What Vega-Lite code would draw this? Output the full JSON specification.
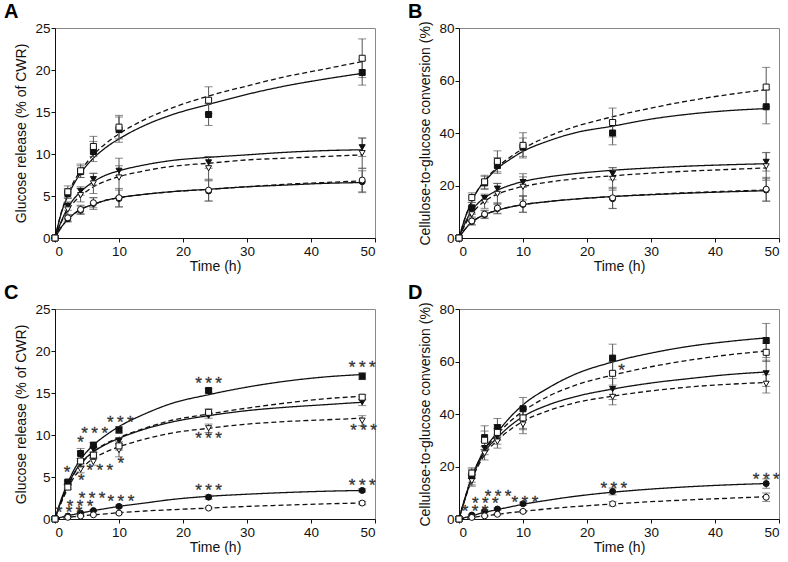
{
"$schema":"https://vega.github.io/schema/vega-lite/v6.json",
"padding":{"left":3,"top":1,"right":0,"bottom":0},
"background":"white",
"columns":2,
"spacing":{"row":71,"column":84},
"bounds":"flush",
"config":{
 "font":"Liberation Sans",
 "view":{"stroke":"#888","strokeWidth":1},
 "axis":{"grid":false,"labelFont":"Liberation Sans","labelFontSize":13.5,"labelColor":"#111","titleFont":"Liberation Sans","titleFontSize":14,"titleFontWeight":"normal","titleColor":"#111","domainColor":"#111","tickColor":"#111","tickSize":4,"labelPadding":2},
 "axisY":{"titlePadding":6,"labelPadding":1},
 "axisX":{"titlePadding":2},
 "title":{"fontSize":20,"fontWeight":"bold","anchor":"start","frame":"group","dx":-51,"offset":-1,"color":"#000","font":"Liberation Sans"}
},
"datasets":{
"pts":[
{"p":"A","s":"ciF","t":0,"v":0,"e":0},{"p":"A","s":"ciF","t":2,"v":2.3,"e":0.4},{"p":"A","s":"ciF","t":4,"v":3.3,"e":0.5},{"p":"A","s":"ciF","t":6,"v":4.1,"e":0.7},{"p":"A","s":"ciF","t":10,"v":4.7,"e":1.0},{"p":"A","s":"ciF","t":24,"v":5.6,"e":1.2},{"p":"A","s":"ciF","t":48,"v":6.7,"e":1.3},
{"p":"A","s":"ciO","t":0,"v":0,"e":0},{"p":"A","s":"ciO","t":2,"v":2.4,"e":0.4},{"p":"A","s":"ciO","t":4,"v":3.4,"e":0.5},{"p":"A","s":"ciO","t":6,"v":4.2,"e":0.6},{"p":"A","s":"ciO","t":10,"v":4.8,"e":1.1},{"p":"A","s":"ciO","t":24,"v":5.7,"e":1.3},{"p":"A","s":"ciO","t":48,"v":6.9,"e":1.4},
{"p":"A","s":"trF","t":0,"v":0,"e":0},{"p":"A","s":"trF","t":2,"v":3.8,"e":0.5},{"p":"A","s":"trF","t":4,"v":5.6,"e":0.5},{"p":"A","s":"trF","t":6,"v":7.0,"e":0.7},{"p":"A","s":"trF","t":10,"v":8.0,"e":0.6},{"p":"A","s":"trF","t":24,"v":9.0,"e":0.7},{"p":"A","s":"trF","t":48,"v":10.8,"e":1.1},
{"p":"A","s":"trO","t":0,"v":0,"e":0},{"p":"A","s":"trO","t":2,"v":3.4,"e":0.8},{"p":"A","s":"trO","t":4,"v":5.1,"e":0.8},{"p":"A","s":"trO","t":6,"v":6.5,"e":1.2},{"p":"A","s":"trO","t":10,"v":7.2,"e":2.3},{"p":"A","s":"trO","t":24,"v":8.3,"e":1.4},{"p":"A","s":"trO","t":48,"v":10.1,"e":1.8},
{"p":"A","s":"sqF","t":0,"v":0,"e":0},{"p":"A","s":"sqF","t":2,"v":5.3,"e":0.6},{"p":"A","s":"sqF","t":4,"v":7.9,"e":0.7},{"p":"A","s":"sqF","t":6,"v":10.3,"e":1.2},{"p":"A","s":"sqF","t":10,"v":12.9,"e":1.5},{"p":"A","s":"sqF","t":24,"v":14.7,"e":1.3},{"p":"A","s":"sqF","t":48,"v":19.7,"e":1.5},
{"p":"A","s":"sqO","t":0,"v":0,"e":0},{"p":"A","s":"sqO","t":2,"v":5.5,"e":0.7},{"p":"A","s":"sqO","t":4,"v":8.0,"e":0.8},{"p":"A","s":"sqO","t":6,"v":10.9,"e":1.2},{"p":"A","s":"sqO","t":10,"v":13.2,"e":1.4},{"p":"A","s":"sqO","t":24,"v":16.4,"e":1.6},{"p":"A","s":"sqO","t":48,"v":21.4,"e":2.3},
{"p":"B","s":"ciF","t":0,"v":0,"e":0},{"p":"B","s":"ciF","t":2,"v":6.3,"e":1.3},{"p":"B","s":"ciF","t":4,"v":8.9,"e":1.5},{"p":"B","s":"ciF","t":6,"v":11.2,"e":2},{"p":"B","s":"ciF","t":10,"v":12.8,"e":3},{"p":"B","s":"ciF","t":24,"v":15,"e":3.8},{"p":"B","s":"ciF","t":48,"v":18.3,"e":4.3},
{"p":"B","s":"ciO","t":0,"v":0,"e":0},{"p":"B","s":"ciO","t":2,"v":6.5,"e":1.5},{"p":"B","s":"ciO","t":4,"v":9.1,"e":1.5},{"p":"B","s":"ciO","t":6,"v":11.4,"e":2},{"p":"B","s":"ciO","t":10,"v":13,"e":3.2},{"p":"B","s":"ciO","t":24,"v":15.3,"e":4},{"p":"B","s":"ciO","t":48,"v":18.6,"e":4.5},
{"p":"B","s":"trF","t":0,"v":0,"e":0},{"p":"B","s":"trF","t":2,"v":10.5,"e":1.5},{"p":"B","s":"trF","t":4,"v":15.2,"e":1.5},{"p":"B","s":"trF","t":6,"v":18.8,"e":2},{"p":"B","s":"trF","t":10,"v":21.3,"e":2},{"p":"B","s":"trF","t":24,"v":24.5,"e":2.3},{"p":"B","s":"trF","t":48,"v":29,"e":3.5},
{"p":"B","s":"trO","t":0,"v":0,"e":0},{"p":"B","s":"trO","t":2,"v":9,"e":2.5},{"p":"B","s":"trO","t":4,"v":13.8,"e":2.5},{"p":"B","s":"trO","t":6,"v":16.8,"e":4},{"p":"B","s":"trO","t":10,"v":19.5,"e":5},{"p":"B","s":"trO","t":24,"v":22.5,"e":4.3},{"p":"B","s":"trO","t":48,"v":27.3,"e":5.3},
{"p":"B","s":"sqF","t":0,"v":0,"e":0},{"p":"B","s":"sqF","t":2,"v":11.5,"e":2},{"p":"B","s":"sqF","t":4,"v":21,"e":2.5},{"p":"B","s":"sqF","t":6,"v":27.6,"e":3},{"p":"B","s":"sqF","t":10,"v":34.6,"e":3.5},{"p":"B","s":"sqF","t":24,"v":40,"e":4.5},{"p":"B","s":"sqF","t":48,"v":50,"e":6.5},
{"p":"B","s":"sqO","t":0,"v":0,"e":0},{"p":"B","s":"sqO","t":2,"v":15.4,"e":1.8},{"p":"B","s":"sqO","t":4,"v":21.4,"e":2.5},{"p":"B","s":"sqO","t":6,"v":29.2,"e":4},{"p":"B","s":"sqO","t":10,"v":35.3,"e":4.8},{"p":"B","s":"sqO","t":24,"v":44,"e":5.5},{"p":"B","s":"sqO","t":48,"v":57.5,"e":7.5},
{"p":"C","s":"ciF","t":0,"v":0,"e":0},{"p":"C","s":"ciF","t":2,"v":0.35,"e":0.05},{"p":"C","s":"ciF","t":4,"v":0.7,"e":0.1},{"p":"C","s":"ciF","t":6,"v":1.0,"e":0.1},{"p":"C","s":"ciF","t":10,"v":1.5,"e":0.15},{"p":"C","s":"ciF","t":24,"v":2.6,"e":0.25},{"p":"C","s":"ciF","t":48,"v":3.4,"e":0.2},
{"p":"C","s":"ciO","t":0,"v":0,"e":0},{"p":"C","s":"ciO","t":2,"v":0.2,"e":0.05},{"p":"C","s":"ciO","t":4,"v":0.35,"e":0.05},{"p":"C","s":"ciO","t":6,"v":0.5,"e":0.05},{"p":"C","s":"ciO","t":10,"v":0.7,"e":0.1},{"p":"C","s":"ciO","t":24,"v":1.3,"e":0.1},{"p":"C","s":"ciO","t":48,"v":1.9,"e":0.2},
{"p":"C","s":"trF","t":0,"v":0,"e":0},{"p":"C","s":"trF","t":2,"v":4.2,"e":0.2},{"p":"C","s":"trF","t":4,"v":6.6,"e":0.3},{"p":"C","s":"trF","t":6,"v":8.3,"e":0.3},{"p":"C","s":"trF","t":10,"v":9.3,"e":0.4},{"p":"C","s":"trF","t":24,"v":12.3,"e":0.3},{"p":"C","s":"trF","t":48,"v":13.9,"e":0.4},
{"p":"C","s":"trO","t":0,"v":0,"e":0},{"p":"C","s":"trO","t":2,"v":3.9,"e":0.2},{"p":"C","s":"trO","t":4,"v":5.9,"e":0.4},{"p":"C","s":"trO","t":6,"v":6.8,"e":0.4},{"p":"C","s":"trO","t":10,"v":8.2,"e":0.8},{"p":"C","s":"trO","t":24,"v":10.8,"e":0.5},{"p":"C","s":"trO","t":48,"v":11.7,"e":0.6},
{"p":"C","s":"sqF","t":0,"v":0,"e":0},{"p":"C","s":"sqF","t":2,"v":4.4,"e":0.2},{"p":"C","s":"sqF","t":4,"v":7.8,"e":0.6},{"p":"C","s":"sqF","t":6,"v":8.8,"e":0.3},{"p":"C","s":"sqF","t":10,"v":10.6,"e":0.4},{"p":"C","s":"sqF","t":24,"v":15.3,"e":0.2},{"p":"C","s":"sqF","t":48,"v":17.0,"e":0.4},
{"p":"C","s":"sqO","t":0,"v":0,"e":0},{"p":"C","s":"sqO","t":2,"v":3.8,"e":0.3},{"p":"C","s":"sqO","t":4,"v":6.9,"e":0.3},{"p":"C","s":"sqO","t":6,"v":7.6,"e":0.3},{"p":"C","s":"sqO","t":10,"v":8.7,"e":0.5},{"p":"C","s":"sqO","t":24,"v":12.7,"e":0.4},{"p":"C","s":"sqO","t":48,"v":14.5,"e":0.3},
{"p":"D","s":"ciF","t":0,"v":0,"e":0},{"p":"D","s":"ciF","t":2,"v":1.5,"e":0.3},{"p":"D","s":"ciF","t":4,"v":3.0,"e":0.4},{"p":"D","s":"ciF","t":6,"v":3.8,"e":0.4},{"p":"D","s":"ciF","t":10,"v":5.8,"e":0.6},{"p":"D","s":"ciF","t":24,"v":10.5,"e":1.3},{"p":"D","s":"ciF","t":48,"v":13.5,"e":1.8},
{"p":"D","s":"ciO","t":0,"v":0,"e":0},{"p":"D","s":"ciO","t":2,"v":0.6,"e":0.2},{"p":"D","s":"ciO","t":4,"v":1.2,"e":0.2},{"p":"D","s":"ciO","t":6,"v":1.8,"e":0.3},{"p":"D","s":"ciO","t":10,"v":2.9,"e":0.4},{"p":"D","s":"ciO","t":24,"v":5.8,"e":0.8},{"p":"D","s":"ciO","t":48,"v":8.3,"e":1.6},
{"p":"D","s":"trF","t":0,"v":0,"e":0},{"p":"D","s":"trF","t":2,"v":15,"e":2},{"p":"D","s":"trF","t":4,"v":27,"e":2.5},{"p":"D","s":"trF","t":6,"v":31.5,"e":3},{"p":"D","s":"trF","t":10,"v":38,"e":4},{"p":"D","s":"trF","t":24,"v":49.5,"e":4},{"p":"D","s":"trF","t":48,"v":55.5,"e":5},
{"p":"D","s":"trO","t":0,"v":0,"e":0},{"p":"D","s":"trO","t":2,"v":14.5,"e":2},{"p":"D","s":"trO","t":4,"v":25,"e":2.5},{"p":"D","s":"trO","t":6,"v":29.5,"e":2.5},{"p":"D","s":"trO","t":10,"v":36,"e":3.5},{"p":"D","s":"trO","t":24,"v":46.5,"e":3},{"p":"D","s":"trO","t":48,"v":51.5,"e":3.5},
{"p":"D","s":"sqF","t":0,"v":0,"e":0},{"p":"D","s":"sqF","t":2,"v":16.5,"e":2.5},{"p":"D","s":"sqF","t":4,"v":31,"e":4.5},{"p":"D","s":"sqF","t":6,"v":34.8,"e":3.5},{"p":"D","s":"sqF","t":10,"v":42,"e":4.3},{"p":"D","s":"sqF","t":24,"v":61.3,"e":5.3},{"p":"D","s":"sqF","t":48,"v":68,"e":6.5},
{"p":"D","s":"sqO","t":0,"v":0,"e":0},{"p":"D","s":"sqO","t":2,"v":17.5,"e":2},{"p":"D","s":"sqO","t":4,"v":30,"e":3.5},{"p":"D","s":"sqO","t":6,"v":33,"e":3},{"p":"D","s":"sqO","t":10,"v":38.5,"e":4},{"p":"D","s":"sqO","t":24,"v":55.5,"e":4.5},{"p":"D","s":"sqO","t":48,"v":63.5,"e":3.5}
],
"fit":[
{"p":"A","s":"sqF","t":0,"v":0},{"p":"A","s":"sqF","t":1,"v":3.0},{"p":"A","s":"sqF","t":2,"v":5.0},{"p":"A","s":"sqF","t":3,"v":6.5},{"p":"A","s":"sqF","t":4,"v":7.7},{"p":"A","s":"sqF","t":6,"v":9.5},{"p":"A","s":"sqF","t":8,"v":10.8},{"p":"A","s":"sqF","t":10,"v":11.8},{"p":"A","s":"sqF","t":14,"v":13.4},{"p":"A","s":"sqF","t":18,"v":14.6},{"p":"A","s":"sqF","t":24,"v":15.9},{"p":"A","s":"sqF","t":30,"v":17.1},{"p":"A","s":"sqF","t":36,"v":18.1},{"p":"A","s":"sqF","t":42,"v":18.9},{"p":"A","s":"sqF","t":48,"v":19.6},
{"p":"A","s":"sqO","t":0,"v":0},{"p":"A","s":"sqO","t":1,"v":3.1},{"p":"A","s":"sqO","t":2,"v":5.2},{"p":"A","s":"sqO","t":3,"v":6.8},{"p":"A","s":"sqO","t":4,"v":8.0},{"p":"A","s":"sqO","t":6,"v":9.9},{"p":"A","s":"sqO","t":8,"v":11.3},{"p":"A","s":"sqO","t":10,"v":12.4},{"p":"A","s":"sqO","t":14,"v":14.1},{"p":"A","s":"sqO","t":18,"v":15.4},{"p":"A","s":"sqO","t":24,"v":16.9},{"p":"A","s":"sqO","t":30,"v":18.1},{"p":"A","s":"sqO","t":36,"v":19.2},{"p":"A","s":"sqO","t":42,"v":20.1},{"p":"A","s":"sqO","t":48,"v":21.0},
{"p":"A","s":"trF","t":0,"v":0},{"p":"A","s":"trF","t":1,"v":2.0},{"p":"A","s":"trF","t":2,"v":3.6},{"p":"A","s":"trF","t":3,"v":4.7},{"p":"A","s":"trF","t":4,"v":5.5},{"p":"A","s":"trF","t":6,"v":6.7},{"p":"A","s":"trF","t":8,"v":7.5},{"p":"A","s":"trF","t":10,"v":8.0},{"p":"A","s":"trF","t":14,"v":8.7},{"p":"A","s":"trF","t":18,"v":9.2},{"p":"A","s":"trF","t":24,"v":9.6},{"p":"A","s":"trF","t":30,"v":9.9},{"p":"A","s":"trF","t":36,"v":10.2},{"p":"A","s":"trF","t":42,"v":10.4},{"p":"A","s":"trF","t":48,"v":10.5},
{"p":"A","s":"trO","t":0,"v":0},{"p":"A","s":"trO","t":1,"v":1.9},{"p":"A","s":"trO","t":2,"v":3.3},{"p":"A","s":"trO","t":3,"v":4.3},{"p":"A","s":"trO","t":4,"v":5.0},{"p":"A","s":"trO","t":6,"v":6.1},{"p":"A","s":"trO","t":8,"v":6.8},{"p":"A","s":"trO","t":10,"v":7.3},{"p":"A","s":"trO","t":14,"v":8.0},{"p":"A","s":"trO","t":18,"v":8.5},{"p":"A","s":"trO","t":24,"v":8.9},{"p":"A","s":"trO","t":30,"v":9.3},{"p":"A","s":"trO","t":36,"v":9.5},{"p":"A","s":"trO","t":42,"v":9.7},{"p":"A","s":"trO","t":48,"v":9.9},
{"p":"A","s":"ciF","t":0,"v":0},{"p":"A","s":"ciF","t":1,"v":1.3},{"p":"A","s":"ciF","t":2,"v":2.2},{"p":"A","s":"ciF","t":3,"v":2.9},{"p":"A","s":"ciF","t":4,"v":3.4},{"p":"A","s":"ciF","t":6,"v":4.0},{"p":"A","s":"ciF","t":8,"v":4.5},{"p":"A","s":"ciF","t":10,"v":4.8},{"p":"A","s":"ciF","t":14,"v":5.2},{"p":"A","s":"ciF","t":18,"v":5.5},{"p":"A","s":"ciF","t":24,"v":5.8},{"p":"A","s":"ciF","t":30,"v":6.1},{"p":"A","s":"ciF","t":36,"v":6.3},{"p":"A","s":"ciF","t":42,"v":6.5},{"p":"A","s":"ciF","t":48,"v":6.6},
{"p":"A","s":"ciO","t":0,"v":0},{"p":"A","s":"ciO","t":1,"v":1.3},{"p":"A","s":"ciO","t":2,"v":2.2},{"p":"A","s":"ciO","t":3,"v":2.9},{"p":"A","s":"ciO","t":4,"v":3.4},{"p":"A","s":"ciO","t":6,"v":4.0},{"p":"A","s":"ciO","t":8,"v":4.5},{"p":"A","s":"ciO","t":10,"v":4.8},{"p":"A","s":"ciO","t":14,"v":5.2},{"p":"A","s":"ciO","t":18,"v":5.5},{"p":"A","s":"ciO","t":24,"v":5.8},{"p":"A","s":"ciO","t":30,"v":6.1},{"p":"A","s":"ciO","t":36,"v":6.4},{"p":"A","s":"ciO","t":42,"v":6.6},{"p":"A","s":"ciO","t":48,"v":6.8},
{"p":"B","s":"sqF","t":0,"v":0},{"p":"B","s":"sqF","t":1,"v":8},{"p":"B","s":"sqF","t":2,"v":14},{"p":"B","s":"sqF","t":3,"v":18.5},{"p":"B","s":"sqF","t":4,"v":21.5},{"p":"B","s":"sqF","t":6,"v":26.5},{"p":"B","s":"sqF","t":8,"v":30},{"p":"B","s":"sqF","t":10,"v":33},{"p":"B","s":"sqF","t":14,"v":37},{"p":"B","s":"sqF","t":18,"v":40},{"p":"B","s":"sqF","t":24,"v":42.6},{"p":"B","s":"sqF","t":30,"v":45.3},{"p":"B","s":"sqF","t":36,"v":47.2},{"p":"B","s":"sqF","t":42,"v":48.5},{"p":"B","s":"sqF","t":48,"v":49.3},
{"p":"B","s":"sqO","t":0,"v":0},{"p":"B","s":"sqO","t":1,"v":8},{"p":"B","s":"sqO","t":2,"v":14},{"p":"B","s":"sqO","t":3,"v":18.5},{"p":"B","s":"sqO","t":4,"v":21.8},{"p":"B","s":"sqO","t":6,"v":27},{"p":"B","s":"sqO","t":8,"v":30.8},{"p":"B","s":"sqO","t":10,"v":34},{"p":"B","s":"sqO","t":14,"v":38.8},{"p":"B","s":"sqO","t":18,"v":42.3},{"p":"B","s":"sqO","t":24,"v":46.2},{"p":"B","s":"sqO","t":30,"v":49.5},{"p":"B","s":"sqO","t":36,"v":52.3},{"p":"B","s":"sqO","t":42,"v":54.6},{"p":"B","s":"sqO","t":48,"v":56.5},
{"p":"B","s":"trF","t":0,"v":0},{"p":"B","s":"trF","t":1,"v":6},{"p":"B","s":"trF","t":2,"v":10.5},{"p":"B","s":"trF","t":3,"v":13.3},{"p":"B","s":"trF","t":4,"v":15.3},{"p":"B","s":"trF","t":6,"v":18.2},{"p":"B","s":"trF","t":8,"v":20.1},{"p":"B","s":"trF","t":10,"v":21.5},{"p":"B","s":"trF","t":14,"v":23.3},{"p":"B","s":"trF","t":18,"v":24.5},{"p":"B","s":"trF","t":24,"v":25.8},{"p":"B","s":"trF","t":30,"v":26.7},{"p":"B","s":"trF","t":36,"v":27.4},{"p":"B","s":"trF","t":42,"v":27.9},{"p":"B","s":"trF","t":48,"v":28.3},
{"p":"B","s":"trO","t":0,"v":0},{"p":"B","s":"trO","t":1,"v":5.3},{"p":"B","s":"trO","t":2,"v":9.4},{"p":"B","s":"trO","t":3,"v":12},{"p":"B","s":"trO","t":4,"v":14},{"p":"B","s":"trO","t":6,"v":16.7},{"p":"B","s":"trO","t":8,"v":18.4},{"p":"B","s":"trO","t":10,"v":19.6},{"p":"B","s":"trO","t":14,"v":21.3},{"p":"B","s":"trO","t":18,"v":22.5},{"p":"B","s":"trO","t":24,"v":23.7},{"p":"B","s":"trO","t":30,"v":24.7},{"p":"B","s":"trO","t":36,"v":25.5},{"p":"B","s":"trO","t":42,"v":26.1},{"p":"B","s":"trO","t":48,"v":26.7},
{"p":"B","s":"ciF","t":0,"v":0},{"p":"B","s":"ciF","t":1,"v":3.5},{"p":"B","s":"ciF","t":2,"v":6},{"p":"B","s":"ciF","t":3,"v":7.7},{"p":"B","s":"ciF","t":4,"v":8.9},{"p":"B","s":"ciF","t":6,"v":10.6},{"p":"B","s":"ciF","t":8,"v":11.8},{"p":"B","s":"ciF","t":10,"v":12.7},{"p":"B","s":"ciF","t":14,"v":13.9},{"p":"B","s":"ciF","t":18,"v":14.8},{"p":"B","s":"ciF","t":24,"v":15.8},{"p":"B","s":"ciF","t":30,"v":16.5},{"p":"B","s":"ciF","t":36,"v":17.1},{"p":"B","s":"ciF","t":42,"v":17.6},{"p":"B","s":"ciF","t":48,"v":18},
{"p":"B","s":"ciO","t":0,"v":0},{"p":"B","s":"ciO","t":1,"v":3.5},{"p":"B","s":"ciO","t":2,"v":6},{"p":"B","s":"ciO","t":3,"v":7.7},{"p":"B","s":"ciO","t":4,"v":8.9},{"p":"B","s":"ciO","t":6,"v":10.6},{"p":"B","s":"ciO","t":8,"v":11.8},{"p":"B","s":"ciO","t":10,"v":12.7},{"p":"B","s":"ciO","t":14,"v":13.9},{"p":"B","s":"ciO","t":18,"v":14.8},{"p":"B","s":"ciO","t":24,"v":15.8},{"p":"B","s":"ciO","t":30,"v":16.6},{"p":"B","s":"ciO","t":36,"v":17.3},{"p":"B","s":"ciO","t":42,"v":17.8},{"p":"B","s":"ciO","t":48,"v":18.3},
{"p":"C","s":"sqF","t":0,"v":0},{"p":"C","s":"sqF","t":1,"v":2.4},{"p":"C","s":"sqF","t":2,"v":4.3},{"p":"C","s":"sqF","t":3,"v":5.9},{"p":"C","s":"sqF","t":4,"v":7.1},{"p":"C","s":"sqF","t":6,"v":8.8},{"p":"C","s":"sqF","t":8,"v":10.0},{"p":"C","s":"sqF","t":10,"v":11.0},{"p":"C","s":"sqF","t":14,"v":12.5},{"p":"C","s":"sqF","t":18,"v":13.7},{"p":"C","s":"sqF","t":24,"v":14.8},{"p":"C","s":"sqF","t":30,"v":15.7},{"p":"C","s":"sqF","t":36,"v":16.4},{"p":"C","s":"sqF","t":42,"v":16.9},{"p":"C","s":"sqF","t":48,"v":17.2},
{"p":"C","s":"sqO","t":0,"v":0},{"p":"C","s":"sqO","t":1,"v":2.1},{"p":"C","s":"sqO","t":2,"v":3.9},{"p":"C","s":"sqO","t":3,"v":5.4},{"p":"C","s":"sqO","t":4,"v":6.5},{"p":"C","s":"sqO","t":6,"v":8.0},{"p":"C","s":"sqO","t":8,"v":9.0},{"p":"C","s":"sqO","t":10,"v":9.7},{"p":"C","s":"sqO","t":14,"v":10.8},{"p":"C","s":"sqO","t":18,"v":11.7},{"p":"C","s":"sqO","t":24,"v":12.5},{"p":"C","s":"sqO","t":30,"v":13.2},{"p":"C","s":"sqO","t":36,"v":13.8},{"p":"C","s":"sqO","t":42,"v":14.3},{"p":"C","s":"sqO","t":48,"v":14.6},
{"p":"C","s":"trF","t":0,"v":0},{"p":"C","s":"trF","t":1,"v":2.2},{"p":"C","s":"trF","t":2,"v":4.0},{"p":"C","s":"trF","t":3,"v":5.5},{"p":"C","s":"trF","t":4,"v":6.6},{"p":"C","s":"trF","t":6,"v":8.0},{"p":"C","s":"trF","t":8,"v":8.9},{"p":"C","s":"trF","t":10,"v":9.6},{"p":"C","s":"trF","t":14,"v":10.7},{"p":"C","s":"trF","t":18,"v":11.5},{"p":"C","s":"trF","t":24,"v":12.3},{"p":"C","s":"trF","t":30,"v":12.9},{"p":"C","s":"trF","t":36,"v":13.3},{"p":"C","s":"trF","t":42,"v":13.6},{"p":"C","s":"trF","t":48,"v":13.9},
{"p":"C","s":"trO","t":0,"v":0},{"p":"C","s":"trO","t":1,"v":2.0},{"p":"C","s":"trO","t":2,"v":3.6},{"p":"C","s":"trO","t":3,"v":5.0},{"p":"C","s":"trO","t":4,"v":5.9},{"p":"C","s":"trO","t":6,"v":7.2},{"p":"C","s":"trO","t":8,"v":8.0},{"p":"C","s":"trO","t":10,"v":8.6},{"p":"C","s":"trO","t":14,"v":9.5},{"p":"C","s":"trO","t":18,"v":10.2},{"p":"C","s":"trO","t":24,"v":10.8},{"p":"C","s":"trO","t":30,"v":11.3},{"p":"C","s":"trO","t":36,"v":11.6},{"p":"C","s":"trO","t":42,"v":11.8},{"p":"C","s":"trO","t":48,"v":12.0},
{"p":"C","s":"ciF","t":0,"v":0},{"p":"C","s":"ciF","t":1,"v":0.2},{"p":"C","s":"ciF","t":2,"v":0.4},{"p":"C","s":"ciF","t":3,"v":0.55},{"p":"C","s":"ciF","t":4,"v":0.7},{"p":"C","s":"ciF","t":6,"v":1.0},{"p":"C","s":"ciF","t":8,"v":1.25},{"p":"C","s":"ciF","t":10,"v":1.5},{"p":"C","s":"ciF","t":14,"v":1.9},{"p":"C","s":"ciF","t":18,"v":2.3},{"p":"C","s":"ciF","t":24,"v":2.7},{"p":"C","s":"ciF","t":30,"v":2.95},{"p":"C","s":"ciF","t":36,"v":3.15},{"p":"C","s":"ciF","t":42,"v":3.3},{"p":"C","s":"ciF","t":48,"v":3.4},
{"p":"C","s":"ciO","t":0,"v":0},{"p":"C","s":"ciO","t":1,"v":0.1},{"p":"C","s":"ciO","t":2,"v":0.2},{"p":"C","s":"ciO","t":3,"v":0.28},{"p":"C","s":"ciO","t":4,"v":0.35},{"p":"C","s":"ciO","t":6,"v":0.5},{"p":"C","s":"ciO","t":8,"v":0.62},{"p":"C","s":"ciO","t":10,"v":0.75},{"p":"C","s":"ciO","t":14,"v":0.95},{"p":"C","s":"ciO","t":18,"v":1.1},{"p":"C","s":"ciO","t":24,"v":1.3},{"p":"C","s":"ciO","t":30,"v":1.5},{"p":"C","s":"ciO","t":36,"v":1.65},{"p":"C","s":"ciO","t":42,"v":1.8},{"p":"C","s":"ciO","t":48,"v":1.9},
{"p":"D","s":"sqF","t":0,"v":0},{"p":"D","s":"sqF","t":1,"v":8.5},{"p":"D","s":"sqF","t":2,"v":16},{"p":"D","s":"sqF","t":3,"v":21.8},{"p":"D","s":"sqF","t":4,"v":26.5},{"p":"D","s":"sqF","t":6,"v":33},{"p":"D","s":"sqF","t":8,"v":38.8},{"p":"D","s":"sqF","t":10,"v":43.5},{"p":"D","s":"sqF","t":14,"v":50},{"p":"D","s":"sqF","t":18,"v":55},{"p":"D","s":"sqF","t":24,"v":59.8},{"p":"D","s":"sqF","t":30,"v":63.2},{"p":"D","s":"sqF","t":36,"v":65.8},{"p":"D","s":"sqF","t":42,"v":67.6},{"p":"D","s":"sqF","t":48,"v":69},
{"p":"D","s":"sqO","t":0,"v":0},{"p":"D","s":"sqO","t":1,"v":8.5},{"p":"D","s":"sqO","t":2,"v":16},{"p":"D","s":"sqO","t":3,"v":21.5},{"p":"D","s":"sqO","t":4,"v":26},{"p":"D","s":"sqO","t":6,"v":32.2},{"p":"D","s":"sqO","t":8,"v":37.2},{"p":"D","s":"sqO","t":10,"v":41},{"p":"D","s":"sqO","t":14,"v":46.8},{"p":"D","s":"sqO","t":18,"v":50.8},{"p":"D","s":"sqO","t":24,"v":54.8},{"p":"D","s":"sqO","t":30,"v":58},{"p":"D","s":"sqO","t":36,"v":60.5},{"p":"D","s":"sqO","t":42,"v":62.5},{"p":"D","s":"sqO","t":48,"v":64},
{"p":"D","s":"trF","t":0,"v":0},{"p":"D","s":"trF","t":1,"v":8.2},{"p":"D","s":"trF","t":2,"v":15.5},{"p":"D","s":"trF","t":3,"v":21},{"p":"D","s":"trF","t":4,"v":25.5},{"p":"D","s":"trF","t":6,"v":31},{"p":"D","s":"trF","t":8,"v":35.5},{"p":"D","s":"trF","t":10,"v":39},{"p":"D","s":"trF","t":14,"v":43.5},{"p":"D","s":"trF","t":18,"v":46.5},{"p":"D","s":"trF","t":24,"v":49.5},{"p":"D","s":"trF","t":30,"v":51.8},{"p":"D","s":"trF","t":36,"v":53.5},{"p":"D","s":"trF","t":42,"v":55},{"p":"D","s":"trF","t":48,"v":56},
{"p":"D","s":"trO","t":0,"v":0},{"p":"D","s":"trO","t":1,"v":8},{"p":"D","s":"trO","t":2,"v":15},{"p":"D","s":"trO","t":3,"v":20.2},{"p":"D","s":"trO","t":4,"v":24.5},{"p":"D","s":"trO","t":6,"v":30},{"p":"D","s":"trO","t":8,"v":34},{"p":"D","s":"trO","t":10,"v":37.2},{"p":"D","s":"trO","t":14,"v":41.3},{"p":"D","s":"trO","t":18,"v":44.2},{"p":"D","s":"trO","t":24,"v":46.8},{"p":"D","s":"trO","t":30,"v":48.8},{"p":"D","s":"trO","t":36,"v":50.3},{"p":"D","s":"trO","t":42,"v":51.3},{"p":"D","s":"trO","t":48,"v":52},
{"p":"D","s":"ciF","t":0,"v":0},{"p":"D","s":"ciF","t":1,"v":0.6},{"p":"D","s":"ciF","t":2,"v":1.2},{"p":"D","s":"ciF","t":3,"v":1.9},{"p":"D","s":"ciF","t":4,"v":2.5},{"p":"D","s":"ciF","t":6,"v":3.6},{"p":"D","s":"ciF","t":8,"v":4.6},{"p":"D","s":"ciF","t":10,"v":5.6},{"p":"D","s":"ciF","t":14,"v":7.2},{"p":"D","s":"ciF","t":18,"v":8.6},{"p":"D","s":"ciF","t":24,"v":10.2},{"p":"D","s":"ciF","t":30,"v":11.4},{"p":"D","s":"ciF","t":36,"v":12.3},{"p":"D","s":"ciF","t":42,"v":13},{"p":"D","s":"ciF","t":48,"v":13.5},
{"p":"D","s":"ciO","t":0,"v":0},{"p":"D","s":"ciO","t":1,"v":0.3},{"p":"D","s":"ciO","t":2,"v":0.6},{"p":"D","s":"ciO","t":3,"v":0.9},{"p":"D","s":"ciO","t":4,"v":1.2},{"p":"D","s":"ciO","t":6,"v":1.8},{"p":"D","s":"ciO","t":8,"v":2.4},{"p":"D","s":"ciO","t":10,"v":2.9},{"p":"D","s":"ciO","t":14,"v":3.9},{"p":"D","s":"ciO","t":18,"v":4.7},{"p":"D","s":"ciO","t":24,"v":5.7},{"p":"D","s":"ciO","t":30,"v":6.6},{"p":"D","s":"ciO","t":36,"v":7.3},{"p":"D","s":"ciO","t":42,"v":7.9},{"p":"D","s":"ciO","t":48,"v":8.5}
],
"ast":[
{"p":"C","t":48,"v":18.1,"l":"*\u2009*\u2009*"},{"p":"C","t":24,"v":16.2,"l":"*\u2009*\u2009*"},{"p":"C","t":10.2,"v":11.5,"l":"*\u2009*\u2009*"},{"p":"C","t":6.2,"v":10.2,"l":"*\u2009*\u2009*"},{"p":"C","t":4,"v":9.2,"l":"*"},{"p":"C","t":1.9,"v":5.6,"l":"*"},{"p":"C","t":4.1,"v":4.7,"l":"*"},{"p":"C","t":7,"v":5.8,"l":"*\u2009*\u2009*"},{"p":"C","t":10.3,"v":6.7,"l":"*"},{"p":"C","t":24,"v":9.6,"l":"*\u2009*\u2009*"},{"p":"C","t":48.2,"v":10.6,"l":"*\u2009*\u2009*"},{"p":"C","t":24,"v":3.4,"l":"*\u2009*\u2009*"},{"p":"C","t":48,"v":4.1,"l":"*\u2009*\u2009*"},{"p":"C","t":10.3,"v":2.1,"l":"*\u2009*\u2009*"},{"p":"C","t":5.8,"v":2.5,"l":"*\u2009*\u2009*"},{"p":"C","t":3.9,"v":1.5,"l":"*\u2009*\u2009*"},{"p":"C","t":2.2,"v":0.8,"l":"*\u2009*\u2009*"},
{"p":"D","t":25.4,"v":56.8,"l":"*"},{"p":"D","t":48,"v":15.2,"l":"*\u2009*\u2009*"},{"p":"D","t":24.2,"v":11.7,"l":"*\u2009*\u2009*"},{"p":"D","t":10.3,"v":6.6,"l":"*\u2009*\u2009*"},{"p":"D","t":6.1,"v":8.9,"l":"*\u2009*\u2009*"},{"p":"D","t":4.1,"v":6.1,"l":"*\u2009*\u2009*"},{"p":"D","t":2.5,"v":2.9,"l":"*\u2009*\u2009*"}
]
},
"concat":[
{"width":320,"height":210,"title":{"text":"A"},
 "encoding":{"x":{"field":"t","type":"quantitative","scale":{"domain":[0,50],"nice":false},"axis":{"values":[0,10,20,30,40,50],"title":"Time (h)"}},
  "y":{"field":"v","type":"quantitative","scale":{"domain":[0,25],"nice":false},"axis":{"values":[0,5,10,15,20,25],"title":"Glucose release (% of CWR)"}}},
 "layer":[
  {"data":{"name":"fit"},"transform":[{"filter":"datum.p=='A'"}],"mark":{"type":"line","interpolate":"monotone","color":"#111","strokeWidth":1.3},
   "encoding":{"strokeDash":{"field":"s","type":"nominal","scale":{"domain":["sqF","sqO","trF","trO","ciF","ciO"],"range":[[1,0],[5,3],[1,0],[5,3],[1,0],[5,3]]},"legend":null}}},
  {"data":{"name":"pts"},"transform":[{"filter":"datum.p=='A' && datum.t>0"}],"mark":{"type":"errorbar","color":"#555","ticks":{"size":8}},
   "encoding":{"yError":{"field":"e"},"detail":{"field":"s"}}},
  {"data":{"name":"pts"},"transform":[{"filter":"datum.p=='A'"}],"mark":{"type":"point","stroke":"#111","strokeWidth":1,"opacity":1,"size":36},
   "encoding":{"shape":{"field":"s","type":"nominal","scale":{"domain":["sqF","sqO","trF","trO","ciF","ciO"],"range":["square","square","triangle-down","triangle-down","circle","circle"]},"legend":null},
    "fill":{"field":"s","type":"nominal","scale":{"domain":["sqF","sqO","trF","trO","ciF","ciO"],"range":["#111","#fff","#111","#fff","#111","#fff"]},"legend":null}}}
 ]},
{"width":320,"height":210,"title":{"text":"B"},
 "encoding":{"x":{"field":"t","type":"quantitative","scale":{"domain":[0,50],"nice":false},"axis":{"values":[0,10,20,30,40,50],"title":"Time (h)"}},
  "y":{"field":"v","type":"quantitative","scale":{"domain":[0,80],"nice":false},"axis":{"values":[0,20,40,60,80],"title":"Cellulose-to-glucose conversion (%)"}}},
 "layer":[
  {"data":{"name":"fit"},"transform":[{"filter":"datum.p=='B'"}],"mark":{"type":"line","interpolate":"monotone","color":"#111","strokeWidth":1.3},
   "encoding":{"strokeDash":{"field":"s","type":"nominal","scale":{"domain":["sqF","sqO","trF","trO","ciF","ciO"],"range":[[1,0],[5,3],[1,0],[5,3],[1,0],[5,3]]},"legend":null}}},
  {"data":{"name":"pts"},"transform":[{"filter":"datum.p=='B' && datum.t>0"}],"mark":{"type":"errorbar","color":"#555","ticks":{"size":8}},
   "encoding":{"yError":{"field":"e"},"detail":{"field":"s"}}},
  {"data":{"name":"pts"},"transform":[{"filter":"datum.p=='B'"}],"mark":{"type":"point","stroke":"#111","strokeWidth":1,"opacity":1,"size":36},
   "encoding":{"shape":{"field":"s","type":"nominal","scale":{"domain":["sqF","sqO","trF","trO","ciF","ciO"],"range":["square","square","triangle-down","triangle-down","circle","circle"]},"legend":null},
    "fill":{"field":"s","type":"nominal","scale":{"domain":["sqF","sqO","trF","trO","ciF","ciO"],"range":["#111","#fff","#111","#fff","#111","#fff"]},"legend":null}}}
 ]},
{"width":320,"height":210,"title":{"text":"C"},
 "encoding":{"x":{"field":"t","type":"quantitative","scale":{"domain":[0,50],"nice":false},"axis":{"values":[0,10,20,30,40,50],"title":"Time (h)"}},
  "y":{"field":"v","type":"quantitative","scale":{"domain":[0,25],"nice":false},"axis":{"values":[0,5,10,15,20,25],"title":"Glucose release (% of CWR)"}}},
 "layer":[
  {"data":{"name":"fit"},"transform":[{"filter":"datum.p=='C'"}],"mark":{"type":"line","interpolate":"monotone","color":"#111","strokeWidth":1.3},
   "encoding":{"strokeDash":{"field":"s","type":"nominal","scale":{"domain":["sqF","sqO","trF","trO","ciF","ciO"],"range":[[1,0],[5,3],[1,0],[5,3],[1,0],[5,3]]},"legend":null}}},
  {"data":{"name":"pts"},"transform":[{"filter":"datum.p=='C' && datum.t>0"}],"mark":{"type":"errorbar","color":"#555","ticks":{"size":8}},
   "encoding":{"yError":{"field":"e"},"detail":{"field":"s"}}},
  {"data":{"name":"pts"},"transform":[{"filter":"datum.p=='C'"}],"mark":{"type":"point","stroke":"#111","strokeWidth":1,"opacity":1,"size":36},
   "encoding":{"shape":{"field":"s","type":"nominal","scale":{"domain":["sqF","sqO","trF","trO","ciF","ciO"],"range":["square","square","triangle-down","triangle-down","circle","circle"]},"legend":null},
    "fill":{"field":"s","type":"nominal","scale":{"domain":["sqF","sqO","trF","trO","ciF","ciO"],"range":["#111","#fff","#111","#fff","#111","#fff"]},"legend":null}}},
  {"data":{"name":"ast"},"transform":[{"filter":"datum.p=='C'"}],"mark":{"type":"text","fontSize":17,"font":"Liberation Sans","fill":"#333","stroke":"#333","strokeWidth":0.3,"baseline":"middle","dy":1},
   "encoding":{"text":{"field":"l"}}}
 ]},
{"width":320,"height":210,"title":{"text":"D"},
 "encoding":{"x":{"field":"t","type":"quantitative","scale":{"domain":[0,50],"nice":false},"axis":{"values":[0,10,20,30,40,50],"title":"Time (h)"}},
  "y":{"field":"v","type":"quantitative","scale":{"domain":[0,80],"nice":false},"axis":{"values":[0,20,40,60,80],"title":"Cellulose-to-glucose conversion (%)"}}},
 "layer":[
  {"data":{"name":"fit"},"transform":[{"filter":"datum.p=='D'"}],"mark":{"type":"line","interpolate":"monotone","color":"#111","strokeWidth":1.3},
   "encoding":{"strokeDash":{"field":"s","type":"nominal","scale":{"domain":["sqF","sqO","trF","trO","ciF","ciO"],"range":[[1,0],[5,3],[1,0],[5,3],[1,0],[5,3]]},"legend":null}}},
  {"data":{"name":"pts"},"transform":[{"filter":"datum.p=='D' && datum.t>0"}],"mark":{"type":"errorbar","color":"#555","ticks":{"size":8}},
   "encoding":{"yError":{"field":"e"},"detail":{"field":"s"}}},
  {"data":{"name":"pts"},"transform":[{"filter":"datum.p=='D'"}],"mark":{"type":"point","stroke":"#111","strokeWidth":1,"opacity":1,"size":36},
   "encoding":{"shape":{"field":"s","type":"nominal","scale":{"domain":["sqF","sqO","trF","trO","ciF","ciO"],"range":["square","square","triangle-down","triangle-down","circle","circle"]},"legend":null},
    "fill":{"field":"s","type":"nominal","scale":{"domain":["sqF","sqO","trF","trO","ciF","ciO"],"range":["#111","#fff","#111","#fff","#111","#fff"]},"legend":null}}},
  {"data":{"name":"ast"},"transform":[{"filter":"datum.p=='D'"}],"mark":{"type":"text","fontSize":17,"font":"Liberation Sans","fill":"#333","stroke":"#333","strokeWidth":0.3,"baseline":"middle","dy":1},
   "encoding":{"text":{"field":"l"}}}
 ]}
]
}
